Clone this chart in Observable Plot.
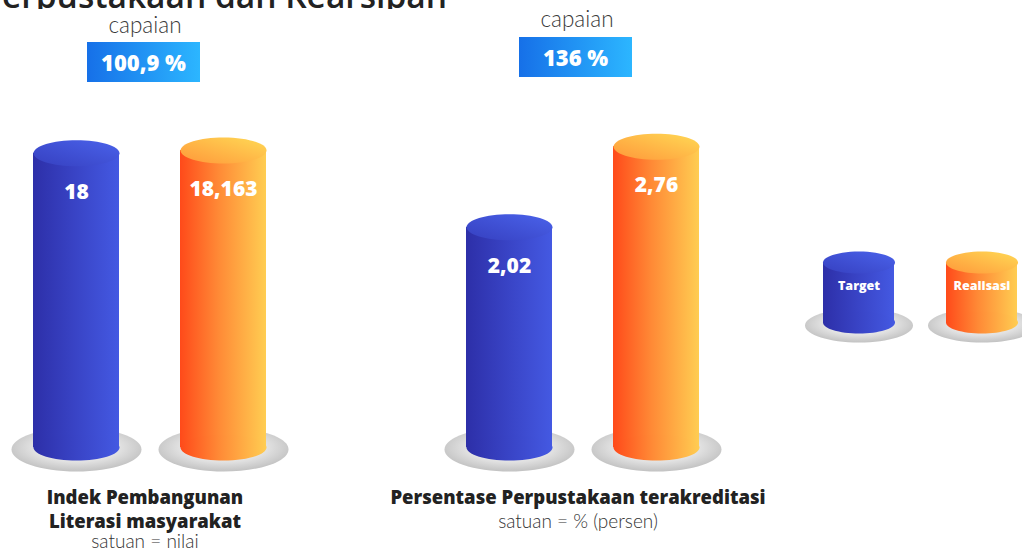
<!DOCTYPE html>
<html>
<head>
<meta charset="utf-8">
<script src="https://cdn.jsdelivr.net/npm/d3@7"></script>
<script src="https://cdn.jsdelivr.net/npm/@observablehq/plot@0.6"></script>
<style>
  body { margin: 0; background: #fff; }
  #stage { position: relative; width: 1022px; height: 551px; overflow: hidden; background: #fff; }
  .abs { position: absolute; }
  .titlewrap { left: 0; top: 0; width: 460px; height: 9px; overflow: hidden; }
  .title { position: absolute; right: 13px; top: -9px; height: 9px; font-family: "Open Sans", sans-serif; font-weight: 600; font-size: 33.5px; line-height: 9px; color: #222; white-space: nowrap; }
  .cap { font-family: Lato, sans-serif; font-weight: 300; font-size: 22.5px; color: #3a3a3a; text-align: center; line-height: 24px; height: 24px; }
  .box { font-family: "Open Sans", sans-serif; font-weight: 800; font-size: 22px; color: #fff; text-align: center; line-height: 40px; height: 40px; width: 113px;
         background: linear-gradient(90deg, #1670e8, #2cb6ff); }
  .cat { font-family: "Open Sans", sans-serif; font-weight: 800; font-size: 18.5px; color: #222; text-align: center; white-space: nowrap; }
  .unit { font-family: Lato, sans-serif; font-weight: 300; font-size: 19px; color: #333; text-align: center; white-space: nowrap; }
  svg.plotsvg { overflow: visible; }
</style>
</head>
<body>
<svg width="0" height="0" style="position:absolute">
  <defs>
    <linearGradient id="blueBody" x1="0" y1="0" x2="1" y2="0">
      <stop offset="0" stop-color="#2d2fa8"/>
      <stop offset="0.5" stop-color="#3944c6"/>
      <stop offset="1" stop-color="#4459e2"/>
    </linearGradient>
    <linearGradient id="blueTop" x1="0" y1="1" x2="1" y2="0">
      <stop offset="0" stop-color="#3640c0"/>
      <stop offset="1" stop-color="#4a62ea"/>
    </linearGradient>
    <linearGradient id="orangeBody" x1="0" y1="0" x2="1" y2="0">
      <stop offset="0" stop-color="#ff4a1a"/>
      <stop offset="0.45" stop-color="#ff8a36"/>
      <stop offset="1" stop-color="#ffcd52"/>
    </linearGradient>
    <linearGradient id="orangeTop" x1="0" y1="1" x2="1" y2="0">
      <stop offset="0" stop-color="#ff983a"/>
      <stop offset="1" stop-color="#ffd955"/>
    </linearGradient>
    <radialGradient id="plate" cx="0.5" cy="0.45" r="0.55">
      <stop offset="0" stop-color="#f6f6f6"/>
      <stop offset="0.6" stop-color="#e2e2e2"/>
      <stop offset="1" stop-color="#c2c2c2"/>
    </radialGradient>
  </defs>
</svg>
<div id="stage"></div>
<script>
// ---- data ----
const titleText = "Perpustakaan dan Kearsipan";
const categoryLines = [["Indek Pembangunan", "Literasi masyarakat"], ["Persentase Perpustakaan terakreditasi"]];
const unitLabels = ["satuan = nilai", "satuan = % (persen)"];
const series = ["Target", "Realisasi"];
const targetValues = [18, 2.02];
const realisasiValues = [18.163, 2.76];
const capaianLabels = ["100,9 %", "136 %"];
const yMax = [20, 3];

// ---- styling helpers ----
const bodyFill = {Target: "url(#blueBody)", Realisasi: "url(#orangeBody)"};
const topFill = {Target: "url(#blueTop)", Realisasi: "url(#orangeTop)"};
const valuesBySeries = {Target: targetValues, Realisasi: realisasiValues};
const fmt = v => String(v).replace(".", ",");

function ellipse(ratio) {
  const k = 0.5522847498;
  return {
    draw(ctx, size) {
      const rx = Math.sqrt(size / Math.PI), ry = rx * ratio;
      ctx.moveTo(rx, 0);
      ctx.bezierCurveTo(rx, ry * k, rx * k, ry, 0, ry);
      ctx.bezierCurveTo(-rx * k, ry, -rx, ry * k, -rx, 0);
      ctx.bezierCurveTo(-rx, -ry * k, -rx * k, -ry, 0, -ry);
      ctx.bezierCurveTo(rx * k, -ry, rx, -ry * k, rx, 0);
      ctx.closePath();
    }
  };
}

const stage = document.getElementById("stage");
function addDiv(cls, html, style, parent) {
  const d = document.createElement("div");
  d.className = "abs " + cls;
  d.innerHTML = html;
  Object.assign(d.style, style);
  (parent || stage).appendChild(d);
  return d;
}

// title (clipped at top of the picture)
const tw = addDiv("titlewrap", "", {});
const t = document.createElement("div");
t.className = "title";
t.textContent = titleText;
tw.appendChild(t);

// group plots
const groupLeft = [2.6, 435.6];
const capCenter = [145, 577];
const capTop = [13, 7];
const boxTop = [42, 37];
const catCenter = [145, 578];
const unitTop = [530, 510];

for (let g = 0; g < 2; g++) {
  const rows = series.map(s => ({series: s, value: valuesBySeries[s][g], label: fmt(valuesBySeries[s][g])}));
  const marks = [];
  marks.push(Plot.dot(rows, {x: "series", frameAnchor: "bottom", r: 65, symbol: ellipse(22 / 65), fill: "url(#plate)", dy: 2}));
  for (const s of series) {
    const sub = rows.filter(d => d.series === s);
    marks.push(Plot.barY(sub, {x: "series", y: "value", fill: bodyFill[s]}));
    marks.push(Plot.dot(sub, {x: "series", frameAnchor: "bottom", r: 43, symbol: ellipse(13 / 43), fill: bodyFill[s]}));
    marks.push(Plot.dot(sub, {x: "series", y: "value", r: 43, symbol: ellipse(13 / 43), fill: topFill[s]}));
    marks.push(Plot.text(sub, {x: "series", y: "value", text: "label", dy: 39, fill: "white", fontSize: 21, fontWeight: 800, fontFamily: "Open Sans"}));
  }
  const plot = Plot.plot({
    width: 292, height: 551,
    marginTop: 120, marginBottom: 104, marginLeft: 0, marginRight: 0,
    x: {domain: series, paddingInner: 0.415, paddingOuter: 0.2, axis: null},
    y: {domain: [0, yMax[g]], axis: null},
    style: {background: "transparent", overflow: "visible"},
    marks
  });
  plot.classList.add("plotsvg");
  plot.style.position = "absolute";
  plot.style.left = groupLeft[g] + "px";
  plot.style.top = "0px";
  stage.appendChild(plot);

  addDiv("cap", "capaian", {left: (capCenter[g] - 60) + "px", top: capTop[g] + "px", width: "120px"});
  addDiv("box", capaianLabels[g], {left: (capCenter[g] - 58) + "px", top: boxTop[g] + "px"});
  let top = 485;
  for (const line of categoryLines[g]) {
    addDiv("cat", line, {left: (catCenter[g] - 250) + "px", top: top + "px", width: "500px", height: "24px", lineHeight: "24px"});
    top += 24;
  }
  addDiv("unit", unitLabels[g], {left: (catCenter[g] - 250) + "px", top: unitTop[g] + "px", width: "500px", height: "21px", lineHeight: "21px"});
}

// legend
const legendRows = series.map(s => ({series: s}));
const legendMarks = [
  Plot.dot(legendRows, {x: "series", frameAnchor: "bottom", r: 54, symbol: ellipse(17 / 54), fill: "url(#plate)", dy: 3})
];
for (const s of series) {
  const sub = legendRows.filter(d => d.series === s);
  legendMarks.push(Plot.cell(sub, {x: "series", fill: bodyFill[s], inset: 0}));
  legendMarks.push(Plot.dot(sub, {x: "series", frameAnchor: "bottom", r: 36, symbol: ellipse(11 / 36), fill: bodyFill[s]}));
  legendMarks.push(Plot.dot(sub, {x: "series", frameAnchor: "top", r: 36, symbol: ellipse(11 / 36), fill: topFill[s]}));
  legendMarks.push(Plot.text(sub, {x: "series", frameAnchor: "middle", text: "series", dy: -7, fill: "white", fontSize: 12.5, fontWeight: 800, fontFamily: "Open Sans"}));
}
const legend = Plot.plot({
  width: 270, height: 551,
  marginTop: 262, marginBottom: 229, marginLeft: 0, marginRight: 0,
  x: {domain: series, paddingInner: 0.419, paddingOuter: 0.3, axis: null},
  style: {background: "transparent", overflow: "visible"},
  marks: legendMarks
});
legend.classList.add("plotsvg");
legend.style.position = "absolute";
legend.style.left = "784.8px";
legend.style.top = "0px";
stage.appendChild(legend);
</script>
</body>
</html>
